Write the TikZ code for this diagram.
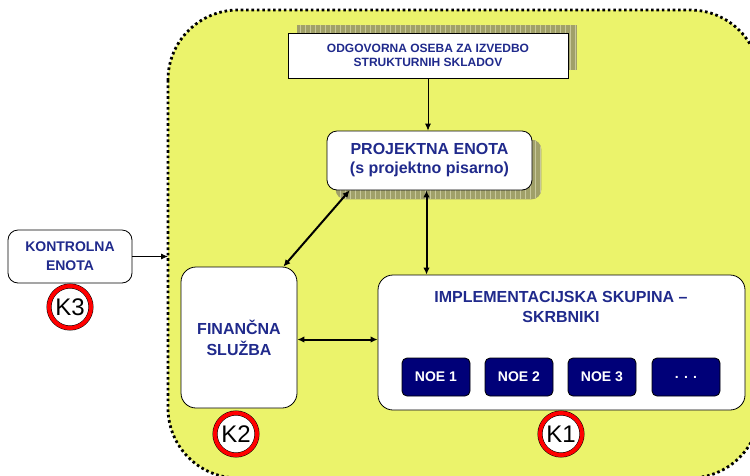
\documentclass[tikz,border=0pt]{standalone}
\usepackage{fontspec}
\setmainfont{Liberation Sans}
\usetikzlibrary{arrows.meta}

\definecolor{areayellow}{RGB}{235,243,107}
\definecolor{txtblue}{RGB}{32,42,140}
\definecolor{noeblue}{RGB}{0,0,120}
\definecolor{shadefill}{RGB}{160,160,105}
\definecolor{shadegrid}{RGB}{200,200,155}

\pgfdeclarelayer{bg}
\pgfdeclarelayer{shade}
\pgfsetlayers{bg,shade,main}

% grid shadow behind a box
\newcommand{\shadebox}[3][0]{%
    \fill[shadefill, rounded corners=#1] #2 rectangle #3;
    \begin{scope}
        \clip[rounded corners=#1] #2 rectangle #3;
        \draw[shadegrid, line width=0.5pt, step=5] #2 grid #3;
    \end{scope}}

\begin{document}
\begin{tikzpicture}[x=1pt, y=-1pt,
        box/.style={draw=black, line width=0.8pt, fill=white, align=center,
        inner sep=0pt, text=txtblue},
        noe/.style={draw=black, line width=0.8pt, fill=noeblue, rounded corners=5,
        minimum width=68pt, minimum height=38pt, inner sep=0pt, text=white,
        font=\fontsize{14}{16}\selectfont\bfseries},
        kmark/.style={circle, draw=black, line width=0.5pt, double=red,
        double distance=4pt, fill=white, minimum size=42pt, inner sep=0pt,
        font=\fontsize{24}{26}\selectfont},
        one/.style={line width=0.8pt, -{Latex[length=7pt,width=6pt]}},
        two/.style={line width=2pt,
        {Latex[length=7pt,width=6.5pt]}-{Latex[length=7pt,width=6.5pt]}}
        ]
    \useasboundingbox (0,0) rectangle (750,475);
    \begin{pgfonlayer}{bg}
        \draw[fill=areayellow, line width=2.8pt, dash pattern=on 2.6pt off 2.8pt,
            rounded corners=70] (168,10) rectangle (760,478);
    \end{pgfonlayer}
    \coordinate (edge) at (168,0);

    \node[box, minimum width=280pt, minimum height=45pt,
        font=\fontsize{12}{14}\selectfont\bfseries] (n_odg) at (428,55.5)
        {ODGOVORNA OSEBA ZA IZVEDBO\\STRUKTURNIH SKLADOV};
    \node[box, rounded corners=10, minimum width=205pt, minimum height=59pt,
        font=\fontsize{16}{19}\selectfont\bfseries] (n_proj) at (429.5,160.5)
        {PROJEKTNA ENOTA\\(s projektno pisarno)};
    \node[box, rounded corners=10, minimum width=124pt, minimum height=53pt,
        font=\fontsize{14}{19}\selectfont\bfseries] (n_kon) at (70,256.5)
        {KONTROLNA\\ENOTA};
    \node[box, rounded corners=15, minimum width=116pt, minimum height=141pt,
        font=\fontsize{16}{21}\selectfont\bfseries] (n_fin) at (239,337.5)
        {FINANČNA\\SLUŽBA};
    \node[box, rounded corners=15, minimum width=367pt, minimum height=135pt]
        (n_impl) at (561.5,342.5) {};
    \node[align=center, text=txtblue, font=\fontsize{16}{20}\selectfont\bfseries]
        (n_implt) at (561,307) {IMPLEMENTACIJSKA SKUPINA –\\SKRBNIKI};

    \node[noe] (n_noe1) at (436,377) {NOE 1};
    \node[noe] (n_noe2) at (519,377) {NOE 2};
    \node[noe] (n_noe3) at (602,377) {NOE 3};
    \node[noe] (n_noe4) at (686,377) {. . .};

    \node[kmark] (k_3) at (70,307) {K3};
    \node[kmark] (k_2) at (236,434) {K2};
    \node[kmark] (k_1) at (561,434) {K1};

    \begin{pgfonlayer}{shade}
        \shadebox{([shift={(9,-8)}]n_odg.south west)}{([shift={(9,-8)}]n_odg.north east)}
        \shadebox[10]{([shift={(9,9)}]n_proj.south west)}{([shift={(9,9)}]n_proj.north east)}
    \end{pgfonlayer}

    \draw[one] (n_odg.south) -- (n_odg.south |- n_proj.north);
    \draw[one] (n_kon.east) -- (n_kon.east -| edge);
    \draw[two] ([xshift=-3pt]n_proj.south) -- ([xshift=-3pt]n_proj.south |- n_impl.north);
    \draw[two] ([xshift=23pt]n_proj.south west) -- ([xshift=-14pt]n_fin.north east);
    \draw[two] ([yshift=-2pt]n_fin.east) -- ([yshift=-2pt]n_fin.east -| n_impl.west);
\end{tikzpicture}
\end{document}
